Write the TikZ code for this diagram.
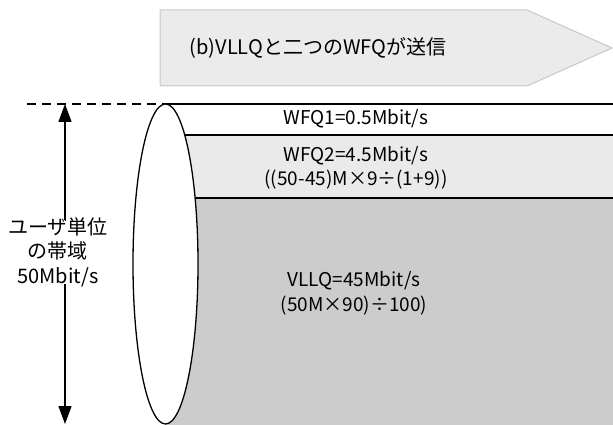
\documentclass[tikz,border=0pt]{standalone}
\usepackage{fontspec}
\setmainfont{Noto Sans CJK JP}
\usetikzlibrary{arrows.meta}
\definecolor{bannerfill}{HTML}{EBEBEB}
\definecolor{bannerline}{HTML}{C8C8C8}
\definecolor{wfqtwo}{HTML}{EAEAEA}
\definecolor{vllq}{HTML}{CCCCCC}
\tikzset{
  banner/.style={fill=bannerfill,draw=bannerline,line width=1pt},
  bandline/.style={draw=black,line width=1.3pt},
  txt/.style={font=\fontsize{19}{24.5}\selectfont,align=center,inner sep=0pt},
  dimarrow/.style={line width=1.3pt,-{Triangle[length=18pt,width=13pt]}},
}
\begin{document}
\begin{tikzpicture}[x=1pt,y=-1pt]
\useasboundingbox (0,0) rectangle (613,425);
% banner
\draw[banner] (160,10) -- (527,10) -- (612,48) -- (527,86) -- (160,86) -- cycle;
\node[txt,font=\fontsize{20}{24}\selectfont] (title) at (318,48) {(b)VLLQと二つのWFQが送信};
% bands
\fill[white]  (165,104) rectangle (613,135);
\fill[wfqtwo] (165,135) rectangle (613,198);
\fill[vllq]   (165,198) rectangle (613,425);
\draw[bandline] (165,104) -- (613,104);
\draw[bandline] (165,135) -- (613,135);
\draw[bandline] (165,198) -- (613,198);
\draw[line width=1.2pt,dashed,dash pattern=on 9pt off 6pt] (27,104) -- (165,104);
% ellipse
\draw[fill=white,line width=1.3pt] (165.5,264) ellipse [x radius=32.5, y radius=160];
% band labels
\node[txt] (wfq1) at (356,119) {WFQ1=0.5Mbit/s};
\node[txt] (wfq2) at (356,168) {WFQ2=4.5Mbit/s\\((50-45)M×9÷(1+9))};
\node[txt] (vllqt) at (354,293.5) {VLLQ=45Mbit/s\\(50M×90)÷100)};
% dimension
\coordinate (top) at (65,104);
\coordinate (bot) at (65,424);
\node[txt,font=\fontsize{20}{24.5}\selectfont] (lab) at (58,252) {ユーザ単位\\の帯域\\50Mbit/s};
\draw[dimarrow] ([yshift=-3pt]lab.north -| top) -- (top);
\draw[dimarrow] ([yshift=3pt]lab.south -| bot) -- (bot);
\end{tikzpicture}
\end{document}
